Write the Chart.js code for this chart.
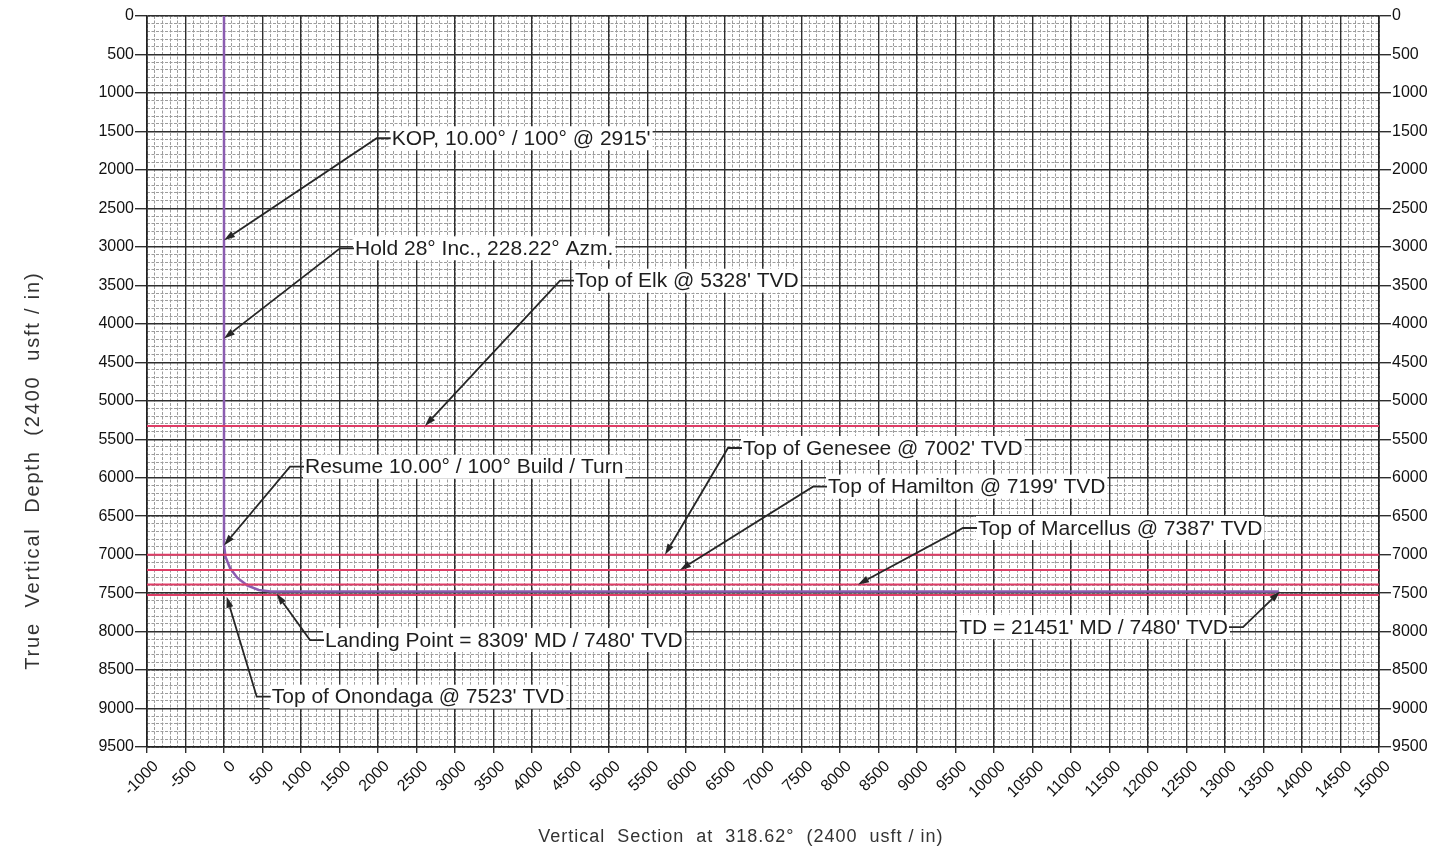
<!DOCTYPE html>
<html>
<head>
<meta charset="utf-8">
<script src="https://cdn.jsdelivr.net/npm/chart.js@4.4.1/dist/chart.umd.min.js"></script>
<style>
  html, body { margin: 0; padding: 0; background: #fff; }
  #wrap { width: 1448px; height: 847px; }
</style>
</head>
<body>
<div id="wrap"><canvas id="section-chart"></canvas></div>
<script>
// Well path: vertical section (usft) vs true vertical depth (usft)
const wellVS  = [0, 0, 20, 80, 175, 300, 450, 605, 13700];
const wellTVD = [0, 6875, 7030, 7178, 7303, 7399, 7459, 7480, 7480];

// Formation tops (TVD)
const formationNames = ['Elk', 'Genesee', 'Hamilton', 'Marcellus', 'Onondaga'];
const formationTVD = [5328, 7002, 7199, 7387, 7523];

// Axis ranges and grid steps
const vsMin = -1000, vsMax = 15000;
const tvdMin = 0, tvdMax = 9500;
const majorStep = 500, minorStep = 100;

const xTitle = 'Vertical  Section  at  318.62\u00b0  (2400  usft / in)';
const yTitle = 'True  Vertical  Depth  (2400  usft / in)';

// Callouts: tip = point the arrow hits, corner = where the leader meets the label (data units)
const callouts = [
    { text: "KOP, 10.00\u00b0 / 100\u00b0 @ 2915'", tip: [0, 2915], corner: [1983, 1589] },
    { text: "Hold 28\u00b0 Inc., 228.22\u00b0 Azm.", tip: [0, 4190], corner: [1506, 3019] },
    { text: "Top of Elk @ 5328' TVD", tip: [2610, 5328], corner: [4364, 3440] },
    { text: "Top of Genesee @ 7002' TVD", tip: [5727, 7002], corner: [6545, 5614] },
    { text: "Resume 10.00\u00b0 / 100\u00b0 Build / Turn", tip: [0, 6880], corner: [857, 5857] },
    { text: "Top of Hamilton @ 7199' TVD", tip: [5922, 7199], corner: [7649, 6117] },
    { text: "Top of Marcellus @ 7387' TVD", tip: [8234, 7387], corner: [9597, 6654] },
    { text: "Landing Point = 8309' MD / 7480' TVD", tip: [684, 7510], corner: [1117, 8110] },
    { text: "Top of Onondaga @ 7523' TVD", tip: [35, 7547], corner: [425, 8846] },
    { text: "TD = 21451' MD / 7480' TVD", tip: [13714, 7480], corner: [13234, 7941], left: true }
];

const FONT = "'Liberation Sans', Arial, sans-serif";
Chart.defaults.font.family = FONT;

// datasets
const wellData = wellVS.map((v, i) => ({ x: v, y: wellTVD[i] }));
const formationSets = formationNames.map((name, i) => ({
    label: 'Top of ' + name,
    data: [{ x: vsMin, y: formationTVD[i] }, { x: vsMax, y: formationTVD[i] }],
    showLine: true,
    borderColor: '#de3d66',
    borderWidth: 2,
    pointRadius: 0
}));

// draws the leader arrows and boxed labels
const calloutPlugin = {
    id: 'callouts',
    afterDatasetsDraw(chart) {
        const { ctx, scales: { x, y } } = chart;
        ctx.save();
        ctx.font = '21px ' + FONT;
        ctx.textBaseline = 'middle';
        callouts.forEach(c => {
            const tx = x.getPixelForValue(c.tip[0]), ty = y.getPixelForValue(c.tip[1]);
            const cx = x.getPixelForValue(c.corner[0]), cy = y.getPixelForValue(c.corner[1]);
            const stub = 14;
            const w = ctx.measureText(c.text).width;
            const bx = c.left ? cx - stub - w - 3 : cx + stub - 1;

            // label box
            ctx.fillStyle = '#fff';
            ctx.fillRect(bx, cy - 12, w + 4, 24);
            ctx.fillStyle = '#1e1e1e';
            ctx.textAlign = 'left';
            ctx.fillText(c.text, bx + 2, cy + 1);

            // leader
            ctx.strokeStyle = '#262626';
            ctx.lineWidth = 1.8;
            const a = Math.atan2(ty - cy, tx - cx);
            const hl = 11, hw = 3.5;
            const bxTip = tx - hl * Math.cos(a), byTip = ty - hl * Math.sin(a);
            ctx.beginPath();
            ctx.moveTo(c.left ? cx - stub : cx + stub, cy);
            ctx.lineTo(cx, cy);
            ctx.lineTo(bxTip, byTip);
            ctx.stroke();
            ctx.fillStyle = '#262626';
            ctx.beginPath();
            ctx.moveTo(tx, ty);
            ctx.lineTo(bxTip + hw * Math.sin(a), byTip - hw * Math.cos(a));
            ctx.lineTo(bxTip - hw * Math.sin(a), byTip + hw * Math.cos(a));
            ctx.closePath();
            ctx.fill();
        });
        ctx.restore();
    }
};

// axis titles, placed like the plotted sheet (slightly off-centre, letter spaced)
const titlePlugin = {
    id: 'axisTitles',
    afterDraw(chart) {
        const { ctx, scales: { x, y } } = chart;
        ctx.save();
        ctx.fillStyle = '#333';
        ctx.textAlign = 'center';
        ctx.textBaseline = 'middle';
        ctx.font = '18px ' + FONT;
        ctx.letterSpacing = '1px';
        ctx.fillText(xTitle, x.left + 0.482 * (x.right - x.left), 837);
        ctx.translate(33, y.top + 0.622 * (y.bottom - y.top));
        ctx.rotate(-Math.PI / 2);
        ctx.font = '20px ' + FONT;
        ctx.letterSpacing = '1.8px';
        ctx.fillText(yTitle, 0, 0);
        ctx.restore();
    }
};

const minorGrid = { color: '#9d9d9d', lineWidth: 1, drawTicks: false };
const majorGrid = { color: '#2e2e2e', lineWidth: 1.4, tickLength: 12, tickColor: '#2e2e2e', tickWidth: 1.4 };
const tickFont = { size: 16 };
const plainLabel = v => String(v);

const ctx = document.getElementById('section-chart').getContext('2d');
new Chart(ctx, {
    type: 'scatter',
    data: {
        datasets: [
            ...formationSets,
            {
                label: 'Well path',
                data: wellData,
                showLine: true,
                borderColor: '#8b5cb0',
                borderWidth: 2.5,
                pointRadius: 0
            }
        ]
    },
    options: {
        responsive: true,
        maintainAspectRatio: false,
        animation: false,
        layout: { padding: { top: 16, left: 0, right: 0, bottom: 0 } },
        plugins: { legend: { display: false }, tooltip: { enabled: false } },
        scales: {
            xm: {
                type: 'linear', position: 'top', min: vsMin, max: vsMax,
                ticks: { stepSize: minorStep, display: false },
                grid: minorGrid,
                border: { display: false, dash: [3, 1.5] }
            },
            ym: {
                type: 'linear', position: 'right', reverse: true, min: tvdMin, max: tvdMax,
                ticks: { stepSize: minorStep, display: false },
                grid: minorGrid,
                border: { display: false, dash: [3, 1.5] }
            },
            x: {
                type: 'linear', position: 'bottom', min: vsMin, max: vsMax,
                ticks: {
                    stepSize: majorStep, autoSkip: false, minRotation: 45, maxRotation: 45,
                    font: tickFont, color: '#111', padding: 4, labelOffset: 9,
                    callback: plainLabel
                },
                grid: { ...majorGrid, tickLength: 6 },
                border: { color: '#222', width: 1.6 },
                afterFit: s => { s.height = 100; }
            },
            y: {
                type: 'linear', position: 'left', reverse: true, min: tvdMin, max: tvdMax,
                ticks: { stepSize: majorStep, font: tickFont, color: '#111', padding: 1, callback: plainLabel },
                grid: majorGrid,
                border: { color: '#222', width: 1.6 },
                afterFit: s => { s.width = 147; }
            },
            y2: {
                type: 'linear', position: 'right', reverse: true, min: tvdMin, max: tvdMax,
                ticks: { stepSize: majorStep, font: tickFont, color: '#111', padding: 1, callback: plainLabel },
                grid: { ...majorGrid, drawOnChartArea: false },
                border: { color: '#222', width: 1.6 },
                afterFit: s => { s.width = 69; }
            }
        }
    },
    plugins: [calloutPlugin, titlePlugin]
});
</script>
</body>
</html>
